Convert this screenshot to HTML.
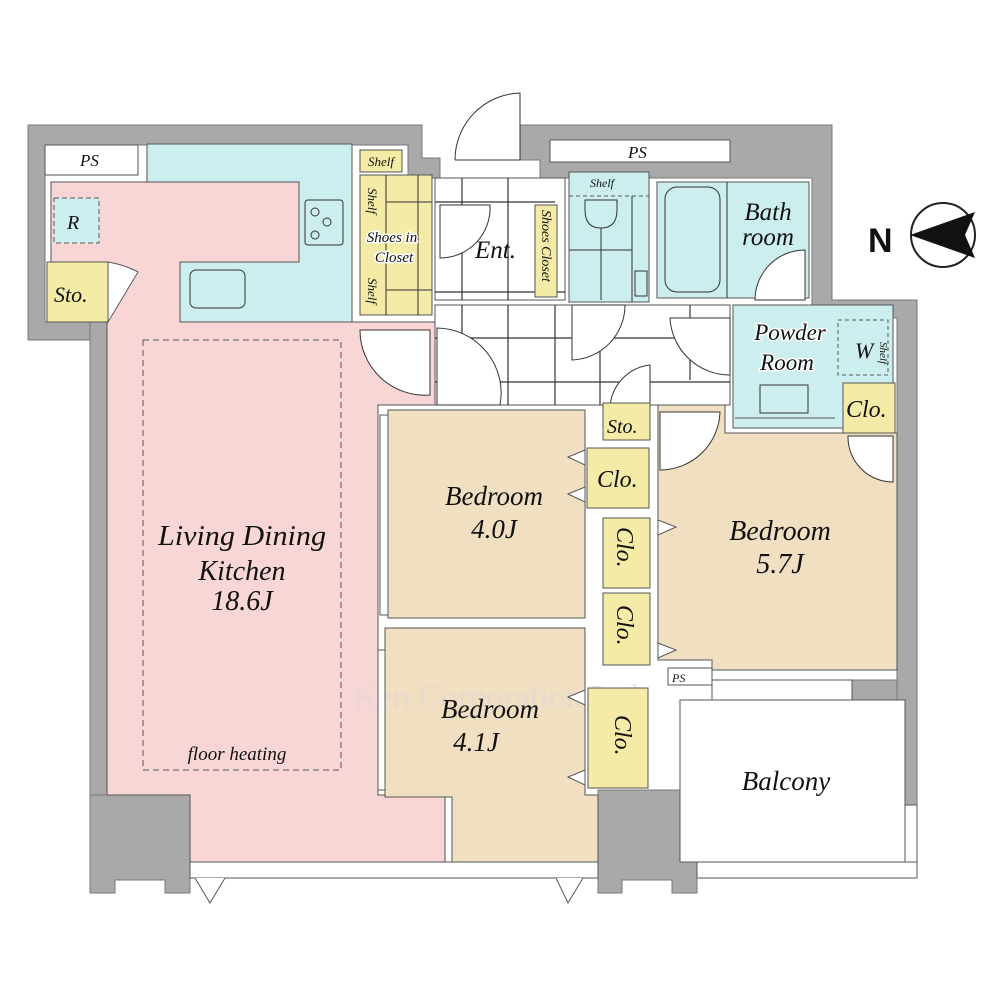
<!DOCTYPE html>
<html><head><meta charset="utf-8"><style>
body{margin:0;background:#fff}
svg{display:block}
text{font-family:"Liberation Serif",serif;font-style:italic;fill:#111}
</style></head><body>
<svg width="1000" height="1000" viewBox="0 0 1000 1000" xmlns="http://www.w3.org/2000/svg">
<rect width="1000" height="1000" fill="#fff"/>
<!-- walls -->
<g fill="#a9a9a9" stroke="#777" stroke-width="1">
<polygon points="28,125 422,125 422,158 440,158 440,178 408,178 408,145 45,145 45,322 90,322 90,340 28,340"/>
<polygon points="90,322 107,322 107,800 90,800"/>
<polygon points="90,795 190,795 190,893 165,893 165,880 115,880 115,893 90,893"/>
<polygon points="520,125 832,125 832,300 917,300 917,805 897,805 897,318 812,318 812,178 540,178 540,160 520,160"/>
<polygon points="598,790 690,790 690,700 712,700 712,862 697,862 697,893 672,893 672,880 622,880 622,893 598,893"/>
<polygon points="852,680 897,680 897,700 852,700"/>
<rect x="440" y="862" width="14" height="16"/>
</g>
<!-- PS boxes -->
<rect x="45" y="145" width="93" height="30" fill="#fff" stroke="#555"/>
<text x="80" y="166" font-size="17">PS</text>
<rect x="550" y="140" width="180" height="22" fill="#fff" stroke="#555"/>
<text x="628" y="158" font-size="17">PS</text>
<!-- kitchen cyan -->
<rect x="147" y="144" width="205" height="178" fill="#cdeeee" stroke="#555"/>
<!-- LDK pink -->
<polygon points="51,182 299,182 299,262 180,262 180,322 440,322 440,405 378,405 378,795 445,795 445,862 190,862 190,795 107,795 107,322 108,322 108,262 51,262" fill="#f8d6d6" stroke="#555"/>
<rect x="54" y="198" width="45" height="45" fill="#cdeeee" stroke="#555" stroke-dasharray="5,3"/>
<text x="67" y="229" font-size="20">R</text>
<rect x="47" y="262" width="61" height="60" fill="#f3eba6" stroke="#555"/>
<text x="54" y="302" font-size="22">Sto.</text>
<path d="M108,262 Q125,265 138,272 L108,322 Z" fill="#fff" stroke="#555"/>
<!-- sink & stove -->
<rect x="190" y="270" width="55" height="38" rx="6" fill="none" stroke="#333"/>
<rect x="305" y="200" width="38" height="45" rx="3" fill="none" stroke="#333"/>
<circle cx="315" cy="212" r="4" fill="none" stroke="#333"/><circle cx="327" cy="222" r="4" fill="none" stroke="#333"/><circle cx="315" cy="235" r="4" fill="none" stroke="#333"/>
<rect x="143" y="340" width="198" height="430" fill="none" stroke="#555" stroke-dasharray="6,4"/>
<text x="242" y="545" font-size="28" text-anchor="middle" textLength="168" lengthAdjust="spacingAndGlyphs">Living Dining</text>
<text x="242" y="580" font-size="28" text-anchor="middle">Kitchen</text>
<text x="242" y="610" font-size="28" text-anchor="middle">18.6J</text>
<text x="237" y="760" font-size="19" text-anchor="middle">floor heating</text>
<!-- shoes in closet -->
<rect x="360" y="150" width="42" height="22" fill="#f3eba6" stroke="#555"/>
<text x="368" y="166" font-size="13">Shelf</text>
<rect x="360" y="175" width="72" height="140" fill="#f3eba6" stroke="#555"/>
<g stroke="#333"><line x1="386" y1="175" x2="386" y2="315"/><line x1="386" y1="202" x2="432" y2="202"/><line x1="386" y1="290" x2="432" y2="290"/><line x1="418" y1="175" x2="418" y2="315"/></g>
<text x="392" y="242" font-size="15" text-anchor="middle" stroke="#fff" stroke-width="3" paint-order="stroke">Shoes in</text>
<text x="394" y="262" font-size="15" text-anchor="middle" stroke="#fff" stroke-width="3" paint-order="stroke">Closet</text>
<text x="0" y="0" font-size="13" transform="translate(368,188) rotate(90)">Shelf</text>
<text x="0" y="0" font-size="13" transform="translate(368,278) rotate(90)">Shelf</text>
<!-- entrance & hall tiles -->
<rect x="435" y="178" width="130" height="122" fill="#fff" stroke="#555"/>
<rect x="435" y="305" width="295" height="100" fill="#fff" stroke="#555"/>
<g stroke="#333" stroke-width="1.2">
<line x1="462" y1="178" x2="462" y2="300"/><line x1="508" y1="178" x2="508" y2="300"/><line x1="435" y1="202" x2="555" y2="202"/><line x1="435" y1="292" x2="565" y2="292"/>
<line x1="462" y1="305" x2="462" y2="405"/><line x1="508" y1="305" x2="508" y2="405"/><line x1="555" y1="305" x2="555" y2="405"/><line x1="600" y1="305" x2="600" y2="405"/><line x1="690" y1="305" x2="690" y2="380"/>
<line x1="435" y1="338" x2="730" y2="338"/><line x1="435" y1="382" x2="730" y2="382"/>
</g>
<path d="M520,160 L520,93 A67,67 0 0 0 455,160" fill="#fff" stroke="#333"/>
<line x1="455" y1="160" x2="520" y2="160" stroke="#333"/>
<path d="M440,205 L490,205 A50,50 0 0 1 440,258 Z" fill="#fff" stroke="#333"/>
<text x="475" y="258" font-size="25">Ent.</text>
<rect x="535" y="205" width="22" height="92" fill="#f3eba6" stroke="#555"/>
<text x="0" y="0" font-size="14" transform="translate(542,210) rotate(90)">Shoes Closet</text>
<path d="M437,328 L437,405 L500,405 A65,65 0 0 0 437,328 Z" fill="#fff" stroke="#333"/>
<path d="M360,330 L430,330 L430,395 A65,65 0 0 1 360,330 Z" fill="#fff" stroke="#333"/>
<path d="M572,305 L572,360 A55,55 0 0 0 625,305 Z" fill="#fff" stroke="#333"/>
<path d="M730,318 L670,318 A60,60 0 0 0 730,375 Z" fill="#fff" stroke="#333"/>
<path d="M610,410 A45,45 0 0 1 650,365 L650,410 Z" fill="#fff" stroke="#333"/>
<!-- toilet -->
<rect x="569" y="172" width="80" height="130" fill="#cdeeee" stroke="#555"/>
<line x1="569" y1="196" x2="649" y2="196" stroke="#555" stroke-dasharray="4,3"/>
<text x="590" y="187" font-size="12">Shelf</text>
<path d="M585,200 L585,210 Q585,228 601,228 Q617,228 617,210 L617,200 Z" fill="none" stroke="#333"/>
<line x1="601" y1="228" x2="601" y2="300" stroke="#333"/><line x1="569" y1="250" x2="632" y2="250" stroke="#333"/>
<line x1="632" y1="196" x2="632" y2="302" stroke="#333"/>
<rect x="635" y="271" width="12" height="25" fill="none" stroke="#333"/>
<!-- bath -->
<rect x="657" y="182" width="152" height="116" fill="#cdeeee" stroke="#555"/>
<rect x="665" y="187" width="55" height="105" rx="12" fill="none" stroke="#333"/>
<line x1="727" y1="182" x2="727" y2="298" stroke="#333"/>
<text x="768" y="220" font-size="25" text-anchor="middle">Bath</text>
<text x="768" y="245" font-size="25" text-anchor="middle">room</text>
<path d="M755,300 A50,50 0 0 1 805,250 L805,300 Z" fill="#fff" stroke="#333"/>
<!-- powder -->
<rect x="733" y="305" width="160" height="123" fill="#cdeeee" stroke="#555"/>
<rect x="838" y="320" width="50" height="55" fill="none" stroke="#555" stroke-dasharray="4,3"/>
<text x="855" y="358" font-size="22">W</text>
<text x="0" y="0" font-size="11" transform="translate(880,342) rotate(90)">Shelf</text>
<text x="790" y="340" font-size="23" text-anchor="middle" stroke="#fff" stroke-width="3" paint-order="stroke">Powder</text>
<text x="787" y="370" font-size="23" text-anchor="middle" stroke="#fff" stroke-width="3" paint-order="stroke">Room</text>
<rect x="760" y="385" width="48" height="28" fill="none" stroke="#333"/>
<line x1="735" y1="418" x2="835" y2="418" stroke="#555"/>
<rect x="843" y="383" width="52" height="50" fill="#f3eba6" stroke="#555"/>
<text x="846" y="417" font-size="24">Clo.</text>
<!-- bedroom 5.7 -->
<polygon points="658,405 725,405 725,433 897,433 897,670 712,670 712,660 658,660" fill="#f0dfc0" stroke="#555"/>
<path d="M660,412 L660,470 A60,60 0 0 0 720,412 Z" fill="#fff" stroke="#333"/>
<path d="M848,436 A45,45 0 0 0 893,482 L893,436 Z" fill="#fff" stroke="#333"/>
<text x="780" y="540" font-size="28" text-anchor="middle">Bedroom</text>
<text x="780" y="573" font-size="28" text-anchor="middle">5.7J</text>
<!-- bedroom 4.0 -->
<rect x="388" y="410" width="197" height="208" fill="#f0dfc0" stroke="#555"/>
<text x="494" y="505" font-size="27" text-anchor="middle">Bedroom</text>
<text x="494" y="538" font-size="27" text-anchor="middle">4.0J</text>
<!-- bedroom 4.1 -->
<polygon points="385,628 585,628 585,795 598,795 598,862 452,862 452,797 385,797" fill="#f0dfc0" stroke="#555"/>
<text x="500" y="708" font-size="34" style="font-style:normal;fill:#e6d6d6;opacity:0.7" text-anchor="middle">Ken Corporation Ltd.</text>
<text x="490" y="718" font-size="27" text-anchor="middle">Bedroom</text>
<text x="476" y="751" font-size="27" text-anchor="middle">4.1J</text>
<!-- closets -->
<rect x="603" y="403" width="47" height="37" fill="#f3eba6" stroke="#555"/>
<text x="607" y="433" font-size="20">Sto.</text>
<rect x="587" y="448" width="62" height="60" fill="#f3eba6" stroke="#555"/>
<text x="597" y="487" font-size="24">Clo.</text>
<rect x="603" y="518" width="47" height="70" fill="#f3eba6" stroke="#555"/>
<text x="0" y="0" font-size="24" transform="translate(617,527) rotate(90)">Clo.</text>
<rect x="603" y="593" width="47" height="72" fill="#f3eba6" stroke="#555"/>
<text x="0" y="0" font-size="24" transform="translate(617,605) rotate(90)">Clo.</text>
<rect x="588" y="688" width="60" height="100" fill="#f3eba6" stroke="#555"/>
<text x="0" y="0" font-size="24" transform="translate(615,715) rotate(90)">Clo.</text>
<g fill="#fff" stroke="#555">
<polygon points="585,450 585,465 568,457"/><polygon points="585,487 585,502 568,494"/>
<polygon points="658,520 658,535 676,527"/><polygon points="658,643 658,658 676,650"/>
<polygon points="585,690 585,705 568,697"/><polygon points="585,770 585,785 568,777"/>
</g>
<rect x="668" y="668" width="44" height="17" fill="#fff" stroke="#555"/>
<text x="672" y="682" font-size="12">PS</text>
<!-- window frames -->
<g fill="#fff" stroke="#555">
<rect x="380" y="415" width="8" height="200"/><rect x="378" y="650" width="7" height="140"/>
<rect x="190" y="862" width="408" height="16"/><rect x="697" y="862" width="220" height="16"/>
<rect x="712" y="680" width="140" height="20"/>
<rect x="905" y="805" width="12" height="57"/>
</g>
<path d="M195,878 L210,903 L225,878" fill="#fff" stroke="#555"/>
<path d="M556,878 L568,903 L583,878" fill="#fff" stroke="#555"/>
<!-- balcony -->
<rect x="680" y="700" width="225" height="162" fill="#fff" stroke="#555"/>
<text x="786" y="790" font-size="27" text-anchor="middle">Balcony</text>
<!-- compass -->
<circle cx="943" cy="235" r="32" fill="#fff" stroke="#222" stroke-width="2"/>
<polygon points="910,235 975,212 965,235" fill="#111"/>
<polygon points="910,235 965,235 975,258" fill="#111"/>
<text x="868" y="252" font-size="34" style="font-style:normal;font-weight:bold;font-family:'Liberation Sans',sans-serif">N</text>
</svg>
</body></html>
